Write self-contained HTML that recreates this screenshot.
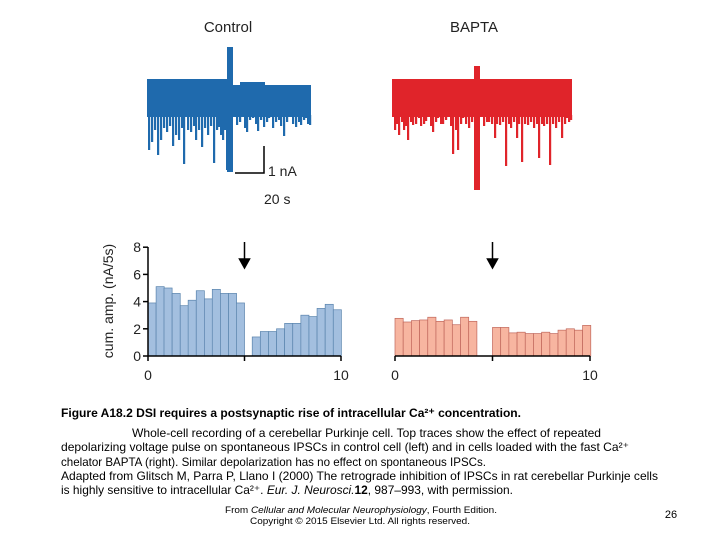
<!DOCTYPE html>
<html><head><meta charset="utf-8"><style>
body{margin:0;background:#fff}
svg{display:block}
text{font-family:"Liberation Sans",sans-serif}
</style></head><body>
<svg id="fig" width="720" height="540" viewBox="0 0 720 540">
<g>
 <text x="228" y="32" font-size="15" text-anchor="middle" fill="#222">Control</text>
 <text x="474" y="32" font-size="15" text-anchor="middle" fill="#222">BAPTA</text>
 <g id="blueTrace" fill="#1f6aad"></g>
 <g id="redTrace" fill="#e0242a"></g>
 <path d="M264 146 V173 H235" stroke="#000" stroke-width="1.5" fill="none"/>
 <text x="268" y="176" font-size="14" fill="#222">1 nA</text>
 <text x="264" y="204" font-size="14" fill="#222">20 s</text>
</g>
<g id="chartL"></g>
<g id="chartR"></g>
<text x="113" y="301" font-size="14" fill="#222" text-anchor="middle" transform="rotate(-90 113 301)">cum. amp. (nA/5s)</text>
<g font-size="12" fill="#000">
 <text x="61" y="417" font-weight="bold" textLength="460" lengthAdjust="spacingAndGlyphs">Figure A18.2 DSI requires a postsynaptic rise of intracellular Ca²⁺ concentration.</text>
 <text x="132" y="437" textLength="469" lengthAdjust="spacingAndGlyphs">Whole-cell recording of a cerebellar Purkinje cell. Top traces show the effect of repeated</text>
 <text x="61" y="451" textLength="568" lengthAdjust="spacingAndGlyphs">depolarizing voltage pulse on spontaneous IPSCs in control cell (left) and in cells loaded with the fast Ca²⁺</text>
 <text x="61" y="466" textLength="425" lengthAdjust="spacingAndGlyphs">chelator BAPTA (right). Similar depolarization has no effect on spontaneous IPSCs.</text>
 <text x="61" y="480" textLength="597" lengthAdjust="spacingAndGlyphs">Adapted from Glitsch M, Parra P, Llano I (2000) The retrograde inhibition of IPSCs in rat cerebellar Purkinje cells</text>
 <text x="61" y="494" textLength="452" lengthAdjust="spacingAndGlyphs">is highly sensitive to intracellular Ca²⁺. <tspan font-style="italic">Eur. J. Neurosci.</tspan><tspan font-weight="bold">12</tspan>, 987–993, with permission.</text>
</g>
<g font-size="9" fill="#000" text-anchor="middle">
 <text x="361" y="513" textLength="272" lengthAdjust="spacingAndGlyphs">From <tspan font-style="italic">Cellular and Molecular Neurophysiology</tspan>, Fourth Edition.</text>
 <text x="360" y="524" textLength="220" lengthAdjust="spacingAndGlyphs">Copyright © 2015 Elsevier Ltd. All rights reserved.</text>
</g>
<text x="671" y="518" font-size="11" text-anchor="middle">26</text>
</svg>
<script>
// Control chart data (bar start time in s, value nA/5s)
const ctrlStarts=[0,0.42,0.83,1.25,1.67,2.08,2.5,2.92,3.33,3.75,4.17,4.58,5.4,5.82,6.24,6.66,7.08,7.5,7.92,8.34,8.76,9.18,9.6];
const ctrlValues=[3.9,5.1,5.0,4.6,3.7,4.1,4.8,4.2,4.9,4.6,4.6,3.9,1.4,1.8,1.8,2.0,2.4,2.4,3.0,2.9,3.5,3.8,3.4];
// BAPTA chart data
const baptaStarts=[0,0.42,0.84,1.26,1.68,2.1,2.52,2.94,3.36,3.78,5.0,5.42,5.84,6.26,6.68,7.1,7.52,7.94,8.36,8.78,9.2,9.62];
const baptaValues=[2.77,2.5,2.6,2.65,2.85,2.55,2.65,2.3,2.85,2.55,2.1,2.1,1.7,1.75,1.65,1.65,1.75,1.65,1.9,2.0,1.9,2.25];
const yTicks=[0,2,4,6,8];
const xTicks=[0,10];
const barW=0.42;
const NS="http://www.w3.org/2000/svg";
function mk(tag,attrs,parent){const e=document.createElementNS(NS,tag);for(const k in attrs)e.setAttribute(k,attrs[k]);parent.appendChild(e);return e;}
function drawChart(g,x0,x1,starts,vals,fill,stroke,showY,arrowT){
 const yS=v=>356-v*13.6, xS=t=>x0+t/10*(x1-x0);
 starts.forEach((s,i)=>{
  const r=mk('rect',{x:xS(s),y:yS(vals[i]),width:xS(s+barW)-xS(s),height:356-yS(vals[i]),fill:fill,stroke:stroke,'stroke-width':0.7},g);
  
  
 });
 const ax=mk('line',{x1:x0,x2:x1,y1:356,y2:356,stroke:'#000','stroke-width':1.5},g);
 
 
 [0,5,10].forEach(t=>mk('line',{x1:xS(t),x2:xS(t),y1:356,y2:361,stroke:'#000','stroke-width':1.5},g));
 xTicks.forEach(t=>{const tx=mk('text',{x:xS(t),y:380,'font-size':14,'text-anchor':'middle',fill:'#222'},g);tx.textContent=t;
  
  });
 if(showY){
  const ay=mk('line',{x1:x0,x2:x0,y1:356,y2:247,stroke:'#000','stroke-width':1.5},g);
  
  
  yTicks.forEach(v=>{mk('line',{x1:x0-5,x2:x0,y1:yS(v),y2:yS(v),stroke:'#000','stroke-width':1.5},g);
   const tx=mk('text',{x:x0-7,y:yS(v)+5,'font-size':14,'text-anchor':'end',fill:'#222'},g);tx.textContent=v;
   
   });
 }
 const ax2=xS(arrowT);
 const a=mk('path',{d:`M${ax2} 242 V262 M${ax2-5} 259 L${ax2} 268 L${ax2+5} 259 Z`,stroke:'#000','stroke-width':1.5,fill:'#000'},g);
 
 
}
drawChart(document.getElementById('chartL'),148,341,ctrlStarts,ctrlValues,'#a3bfdf','#5a84ad',true,5);
drawChart(document.getElementById('chartR'),395,590,baptaStarts,baptaValues,'#f7b5a0','#c0675b',false,5);

// Decorative traces (spike depths as fixed lists)
const blueSpikes=[[148,150],[151,142],[154,130],[157,155],[160,140],[163,128],[166,132],[169,126],[172,146],[175,135],[178,140],[181,128],[183,164],[187,130],[190,132],[193,126],[195,140],[198,130],[201,147],[204,128],[207,135],[210,126],[213,163],[216,130],[218,127],[220,135],[222,140],[224,130],[226,170],[236,125],[239,122],[241,117],[244,128],[246,132],[249,120],[252,118],[255,124],[257,131],[260,120],[263,127],[266,122],[268,118],[272,128],[275,122],[278,120],[280,126],[283,136],[286,122],[289,114],[292,124],[295,127],[298,122],[300,125],[303,120],[305,118],[307,124],[309,125]];
const redSpikes=[[394,130],[396,124],[398,135],[401,122],[403,130],[405,126],[407,140],[410,122],[412,125],[415,124],[418,118],[420,126],[423,124],[425,121],[427,117],[430,126],[432,132],[435,122],[437,118],[440,124],[442,124],[445,120],[447,115],[450,126],[452,154],[455,130],[457,150],[460,124],[462,118],[465,124],[468,128],[471,122],[483,126],[486,122],[488,122],[491,124],[494,138],[496,124],[499,125],[502,122],[505,166],[508,124],[510,128],[513,122],[516,138],[518,124],[521,162],[524,124],[527,125],[530,122],[533,128],[536,124],[538,158],[541,124],[543,126],[546,124],[549,165],[552,124],[555,128],[558,122],[561,138],[564,124],[566,118],[568,122],[570,120]];
function drawTrace(g,segs,band,spikes,sx,sTop,sBot){
 segs.forEach(s=>mk('rect',{x:s[0],y:s[2],width:s[1]-s[0],height:band-(s[2]-79)},g));
 spikes.forEach(s=>mk('rect',{x:s[0],y:79+band-2,width:2.2,height:s[1]-79-band+2},g));
 mk('rect',{x:sx,y:sTop,width:6,height:sBot-sTop},g);
}
drawTrace(document.getElementById('blueTrace'),[[147,229,79],[229,311,85],[240,265,82]],38,blueSpikes,227,47,172);
drawTrace(document.getElementById('redTrace'),[[392,572,79]],38,redSpikes,474,66,190);
</script>
</body></html>
